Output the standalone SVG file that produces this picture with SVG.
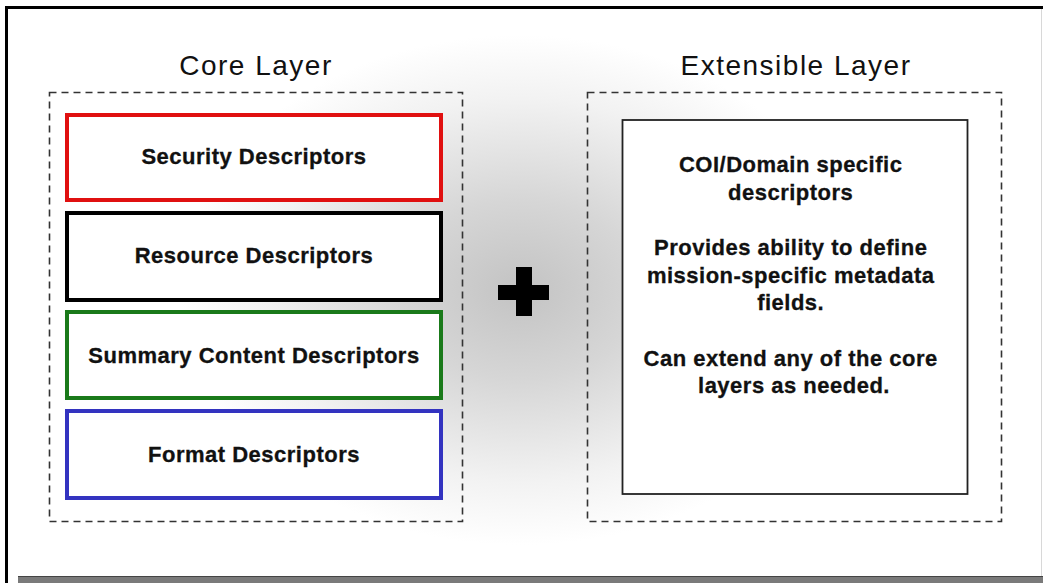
<svg xmlns="http://www.w3.org/2000/svg" width="1043" height="583" viewBox="0 0 1043 583">
  <defs>
    <radialGradient id="bgGlow" gradientUnits="userSpaceOnUse" cx="520" cy="290" r="340" gradientTransform="translate(520 290) scale(1 0.75) translate(-520 -290)">
      <stop offset="0" stop-color="#c3c3c3"/>
      <stop offset="0.35" stop-color="#d6d6d6"/>
      <stop offset="0.75" stop-color="#f2f2f2"/>
      <stop offset="1" stop-color="#ffffff"/>
    </radialGradient>
    <style>
      .title { font-family: "Liberation Sans", Arial, sans-serif; font-size: 28px; letter-spacing: 1.5px; fill: #111; text-anchor: middle; }
      .label { font-family: "Liberation Sans", Arial, sans-serif; font-size: 22px; font-weight: bold; letter-spacing: 0.5px; fill: #111; stroke: #111; stroke-width: 0.3; text-anchor: middle; }
      .layer { fill: none; stroke: #333; stroke-width: 1.6; stroke-dasharray: 7 5; }
      .desc { fill: #fff; stroke-width: 4; }
    </style>
  </defs>

  <!-- page background and frame -->
  <rect x="0" y="0" width="1043" height="583" fill="#fff"/>
  <rect x="6" y="7" width="1037" height="570" fill="url(#bgGlow)"/>
  <rect x="18" y="576" width="1025" height="7" fill="#7a7a7a"/>
  <line x1="18" y1="576.5" x2="1043" y2="576.5" stroke="#444" stroke-width="1"/>
  <line x1="1041.5" y1="9" x2="1041.5" y2="576" stroke="#d8d8d8" stroke-width="1"/>
  <path d="M6.5 583 V7.5 H1043" fill="none" stroke="#000" stroke-width="3"/>

  <!-- core layer -->
  <g id="core-layer">
    <text class="title" x="256" y="75">Core Layer</text>
    <rect class="layer" x="49.5" y="92.5" width="413" height="429"/>
  </g>
  <g id="security-descriptors">
    <rect class="desc" x="67" y="115" width="374" height="85" stroke="#e01010"/>
    <text class="label" x="254" y="164">Security Descriptors</text>
  </g>
  <g id="resource-descriptors">
    <rect class="desc" x="67" y="213" width="374" height="87" stroke="#000"/>
    <text class="label" x="254" y="263">Resource Descriptors</text>
  </g>
  <g id="summary-content-descriptors">
    <rect class="desc" x="67" y="312" width="374" height="86" stroke="#1a7a1a"/>
    <text class="label" x="254" y="363">Summary Content Descriptors</text>
  </g>
  <g id="format-descriptors">
    <rect class="desc" x="67" y="411" width="374" height="87" stroke="#3333c0"/>
    <text class="label" x="254" y="462">Format Descriptors</text>
  </g>

  <!-- plus sign joining the layers -->
  <g id="plus">
    <rect x="516" y="267" width="16" height="49" fill="#000"/>
    <rect x="498" y="285" width="51" height="15" fill="#000"/>
  </g>

  <!-- extensible layer -->
  <g id="extensible-layer">
    <text class="title" x="796" y="75">Extensible Layer</text>
    <rect class="layer" x="587.5" y="92.5" width="414" height="429"/>
  </g>
  <g id="coi-descriptors">
    <rect x="622.5" y="120" width="345" height="374" fill="#fff" stroke="#222" stroke-width="1.8"/>
    <text class="label" x="794">
      <tspan x="794" y="172">COI/Domain specific</tspan>
      <tspan x="794" y="200">descriptors</tspan>
      <tspan x="794" y="255">Provides ability to define</tspan>
      <tspan x="794" y="283">mission-specific metadata</tspan>
      <tspan x="794" y="310">fields.</tspan>
      <tspan x="794" y="366">Can extend any of the core</tspan>
      <tspan x="794" y="393">layers as needed.</tspan>
    </text>
  </g>

  <!-- no connectors in this figure -->
  <g id="connectors"/>
</svg>
